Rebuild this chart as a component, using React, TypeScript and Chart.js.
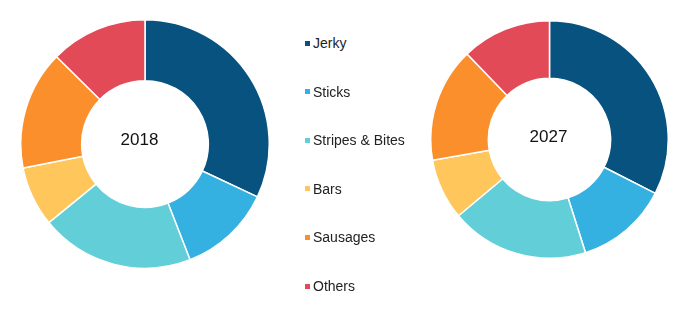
import React, { useEffect, useRef } from "react";
import { Chart, registerables } from "chart.js";

Chart.register(...registerables);

const categories = ["Jerky", "Sticks", "Stripes & Bites", "Bars", "Sausages", "Others"];
const values2018 = [32.0, 12.1, 20.0, 7.8, 15.5, 12.6];
const values2027 = [32.5, 12.6, 18.8, 8.3, 15.6, 12.2];
const colors = ["#07527E", "#34B1E1", "#62CED8", "#FFC65B", "#FA8F2C", "#E24A57"];
const yearLabels = ["2018", "2027"];

const FONT = '"Liberation Sans", Arial, sans-serif';

function Donut({ values, size, cutout }: { values: number[]; size: number; cutout: string }) {
  const ref = useRef<HTMLCanvasElement | null>(null);
  useEffect(() => {
    if (!ref.current) return;
    const chart = new Chart(ref.current, {
      type: "doughnut",
      data: {
        labels: categories,
        datasets: [
          {
            data: values,
            backgroundColor: colors,
            borderColor: "#ffffff",
            borderWidth: 1.5,
            hoverOffset: 0,
          },
        ],
      },
      options: {
        responsive: false,
        animation: false,
        cutout,
        layout: { padding: 0 },
        plugins: { legend: { display: false }, tooltip: { enabled: false } },
      },
    });
    return () => chart.destroy();
  }, []);
  return <canvas ref={ref} width={size} height={size} style={{ width: size, height: size, display: "block" }} />;
}

export default function App() {
  return (
    <div style={{ position: "fixed", left: 0, top: 0, width: 691, height: 313, background: "#fff", fontFamily: FONT }}>
      <div style={{ position: "absolute", left: 20, top: 19 }}>
        <Donut values={values2018} size={250} cutout="51%" />
      </div>
      <div style={{ position: "absolute", left: 430, top: 20 }}>
        <Donut values={values2027} size={239} cutout="51.5%" />
      </div>
      <div style={{ position: "absolute", left: 99.5, top: 130, width: 80, textAlign: "center", fontSize: 17, lineHeight: "20px", color: "#111" }}>
        {yearLabels[0]}
      </div>
      <div style={{ position: "absolute", left: 508.5, top: 127, width: 80, textAlign: "center", fontSize: 17, lineHeight: "20px", color: "#111" }}>
        {yearLabels[1]}
      </div>
      {categories.map((c, i) => (
        <div
          key={c}
          style={{
            position: "absolute",
            left: 305,
            top: 43 + i * 48.6 - 10,
            height: 20,
            display: "flex",
            alignItems: "center",
            fontSize: 14,
            color: "#222",
            whiteSpace: "nowrap",
          }}
        >
          <span style={{ display: "inline-block", width: 5, height: 5, background: colors[i], marginRight: 3 }} />
          {c}
        </div>
      ))}
    </div>
  );
}
